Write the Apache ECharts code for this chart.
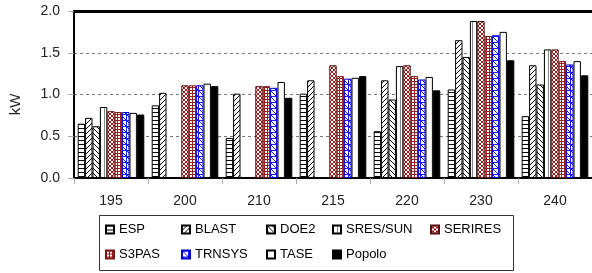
<!DOCTYPE html>
<html><head><meta charset="utf-8">
<script src="https://cdn.jsdelivr.net/npm/echarts@6/dist/echarts.min.js"></script>
<style>html,body{margin:0;padding:0;background:#fff}#c{width:592px;height:273px}</style>
</head><body><div id="c"></div>
<script>
const categories = ['195','200','210','215','220','230','240'];
const seriesNames = ['ESP','BLAST','DOE2','SRES/SUN','SERIRES','S3PAS','TRNSYS','TASE','Popolo'];
const ESP      = [0.65, 0.87, 0.48, 1.01, 0.56, 1.06, 0.74];
const BLAST    = [0.72, 1.02, 1.01, 1.17, 1.17, 1.65, 1.35];
const DOE2     = [0.62, null, null, null, 0.94, 1.45, 1.12];
const SRES_SUN = [0.85, null, null, null, 1.34, 1.88, 1.54];
const SERIRES  = [0.80, 1.11, 1.10, 1.35, 1.35, 1.88, 1.54];
const S3PAS    = [0.79, 1.11, 1.10, 1.22, 1.22, 1.70, 1.40];
const TRNSYS   = [0.79, 1.11, 1.08, 1.19, 1.18, 1.71, 1.36];
const TASE     = [0.78, 1.13, 1.15, 1.20, 1.21, 1.75, 1.40];
const Popolo   = [0.76, 1.10, 0.96, 1.22, 1.05, 1.41, 1.23];
const yTicks = [0, 0.5, 1.0, 1.5, 2.0];

const seriesData = [ESP, BLAST, DOE2, SRES_SUN, SERIRES, S3PAS, TRNSYS, TASE, Popolo];

function pat(w, h, draw) {
  const c = document.createElement('canvas');
  c.width = w; c.height = h;
  const g = c.getContext('2d');
  g.fillStyle = '#fff'; g.fillRect(0, 0, w, h);
  draw(g, w, h);
  return { image: c, repeat: 'repeat' };
}
function px(g, x, y, col) { g.fillStyle = col; g.fillRect(x, y, 1, 1); }
const RED = '#9c1f1f', BLUE = '#1a1aff';
const fills = [
  pat(4, 4, (g) => { g.fillStyle = '#000'; g.fillRect(0, 0, 4, 1); }),
  pat(5, 5, (g) => { for (let i = 0; i < 5; i++) px(g, i, 4 - i, '#000'); }),
  pat(5, 5, (g) => { for (let i = 0; i < 5; i++) px(g, i, i, '#000'); }),
  pat(4, 1, (g) => { px(g, 0, 0, '#888'); }),
  pat(4, 4, (g) => { for (let i = 0; i < 4; i++) { px(g, i, i, RED); px(g, i, 3 - i, RED); } }),
  pat(3, 3, (g) => { g.fillStyle = RED; g.fillRect(0, 0, 3, 1); g.fillRect(0, 0, 1, 3); }),
  pat(6, 6, (g) => { g.fillStyle = BLUE; g.fillRect(0, 0, 6, 1); g.fillRect(0, 0, 1, 6);
                     for (let i = 0; i < 6; i++) px(g, i, i, BLUE); }),
  '#ffffff',
  '#000000'
];
const borders = ['#000', '#000', '#000', '#000', '#5a0f0f', '#7a1515', '#0000cc', '#000', '#000'];

const legendCols = [105, 181, 266, 332, 430, 105, 181, 266, 332];
const legendRows = [223, 223, 223, 223, 223, 248, 248, 248, 248];

const chart = echarts.init(document.getElementById('c'), null, { renderer: 'canvas' });
const FONT = 'Liberation Sans';
chart.setOption({
  animation: false,
  textStyle: { fontFamily: FONT },
  grid: { left: 72, right: -2, top: 11, bottom: 95, containLabel: false },
  legend: seriesNames.map((n, i) => ({
    data: [n], left: legendCols[i], top: legendRows[i], padding: 0,
    itemWidth: 8, itemHeight: 8, icon: 'rect', selectedMode: false,
    textStyle: { fontFamily: FONT, fontSize: 13, color: '#000' }
  })),
  graphic: [{
    type: 'rect', shape: { x: 99.5, y: 215.5, width: 414, height: 55 },
    style: { fill: 'none', stroke: '#333', lineWidth: 1 }, silent: true
  }],
  xAxis: [{
    type: 'category', data: categories, position: 'bottom',
    axisLine: { lineStyle: { color: '#000', width: 2 } },
    axisTick: { show: true, length: 6, lineStyle: { color: '#aaa' } },
    axisLabel: { margin: 16, fontSize: 14, color: '#222', fontFamily: FONT }
  }, {
    type: 'category', data: categories, position: 'top',
    axisLine: { lineStyle: { color: '#000', width: 3 } },
    axisTick: { show: false }, axisLabel: { show: false }
  }],
  yAxis: {
    type: 'value', min: yTicks[0], max: yTicks[yTicks.length - 1], interval: 0.5,
    name: 'kW', nameLocation: 'middle', nameGap: 51, nameRotate: 90,
    nameTextStyle: { fontSize: 15, color: '#222', fontFamily: FONT, padding: [0, 20, 0, 0] },
    axisLine: { show: true, lineStyle: { color: '#000', width: 2 } },
    axisTick: { show: true, length: 6, lineStyle: { color: '#aaa' } },
    axisLabel: { margin: 14, fontSize: 14, color: '#222', fontFamily: FONT,
                 formatter: (v) => v.toFixed(1) },
    splitLine: { show: true, lineStyle: { color: '#777', type: [3, 3], width: 1 } }
  },
  series: seriesNames.map((n, i) => ({
    name: n, type: 'bar', data: seriesData[i],
    barGap: '0%', barCategoryGap: '10%',
    itemStyle: { color: fills[i], borderColor: borders[i], borderWidth: 1 },
    emphasis: { disabled: true }
  }))
});
</script>
</body></html>
